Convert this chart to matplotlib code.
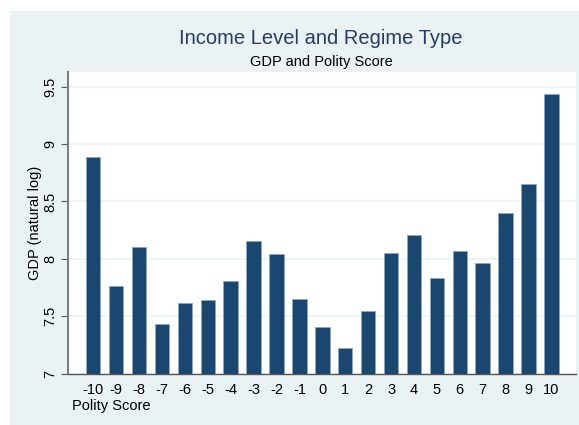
import matplotlib
matplotlib.use("Agg")
import matplotlib.pyplot as plt
from matplotlib.patches import Rectangle

plt.rcParams['font.family'] = ['Liberation Sans', 'DejaVu Sans']

# Data
polity = [-10, -9, -8, -7, -6, -5, -4, -3, -2, -1, 0, 1, 2, 3, 4, 5, 6, 7, 8, 9, 10]
gdp_log = [8.89, 7.76, 8.10, 7.43, 7.62, 7.64, 7.81, 8.16, 8.04, 7.65, 7.41,
           7.22, 7.55, 8.05, 8.21, 7.83, 8.07, 7.96, 8.40, 8.65, 9.44]
y_ticks = [7, 7.5, 8, 8.5, 9, 9.5]
y_tick_labels = ["7", "7.5", "8", "8.5", "9", "9.5"]

NAVY = "#1a476f"
BG = "#eaf2f3"
W, H = 579, 425

fig = plt.figure(figsize=(W / 100, H / 100), dpi=100, facecolor="white")
# light graph region (white margin on the left and top)
fig.patches.append(Rectangle((10 / W, 0), 1 - 10 / W, 1 - 11 / H,
                             transform=fig.transFigure, facecolor=BG,
                             edgecolor="none", zorder=-10))

ax = fig.add_axes([68.3 / W, 1 - 373.7 / H, (575.7 - 68.3) / W, (373.7 - 72) / H])
ax.set_zorder(1)
ax.set_facecolor("white")

ax.bar(polity, [v - 7 for v in gdp_log], bottom=7, width=0.63,
       color=NAVY, edgecolor="#8fa7bd", linewidth=0.5, zorder=3)

ax.set_xlim(-11.09, 11.06)
ax.set_ylim(7, 9.628)

ax.set_yticks(y_ticks)
ax.set_yticklabels(y_tick_labels, rotation=90, va="center", fontsize=10.5)
ax.set_xticks(polity)
ax.set_xticklabels([str(p) for p in polity], fontsize=10.5)
ax.tick_params(axis="x", length=0, pad=7)
ax.tick_params(axis="y", length=5, width=0.8, color="#555555", pad=3)

ax.grid(axis="y", color=BG, linewidth=1.2, zorder=0)
ax.set_axisbelow(True)

for s in ["top", "right"]:
    ax.spines[s].set_visible(False)
ax.spines["left"].set_color("#7f7f7f")
ax.spines["left"].set_linewidth(1.5)
ax.spines["bottom"].set_color("#555555")
ax.spines["bottom"].set_linewidth(1.0)

ax.set_ylabel("GDP (natural log)", fontsize=10.5, labelpad=1)

fig.text(71.7 / W, 1 - 406 / H, "Polity Score", fontsize=10.5, ha="left", va="center")
fig.text(321 / W, 1 - 38 / H, "Income Level and Regime Type", fontsize=14.5,
         color="#263c64", ha="center", va="center")
fig.text(321 / W, 1 - 62 / H, "GDP and Polity Score", fontsize=10.5,
         ha="center", va="center")

fig.savefig("out.png", dpi=100, facecolor="white")
